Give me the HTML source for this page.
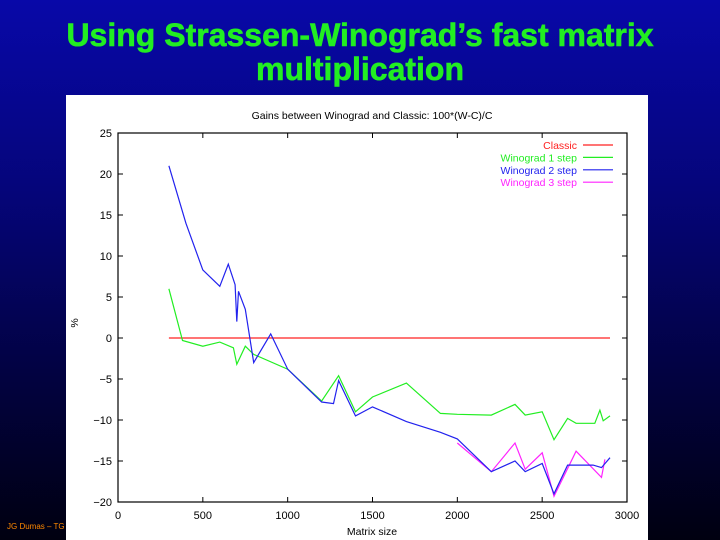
<!DOCTYPE html>
<html><head><style>
body{margin:0;width:720px;height:540px;overflow:hidden;background:linear-gradient(#0808a8 0%,#05057a 35%,#020240 70%,#000010 100%);font-family:"Liberation Sans",sans-serif;position:relative}
.t{position:absolute;left:0;width:720px;text-align:center;color:#22ee22;font-weight:bold;font-size:32px;line-height:34px;-webkit-text-stroke:0.6px #22ee22}
</style></head><body>
<div class="t" style="top:18px">Using Strassen-Winograd’s fast matrix<br>multiplication</div>
<div style="position:absolute;left:7px;top:522px;color:#ff8800;font-size:8px">JG Dumas – TG</div>
<svg style="position:absolute;left:66px;top:95px" width="582" height="445" id="s"></svg>
<script>
var s=document.getElementById('s'),h='<rect width="582" height="445" fill="#fff"/>';
function X(x){return 118-66+x*509/3000}function Y(v){return 338-95-v*8.2}
h+='<text x="306" y="24" font-size="10.5" text-anchor="middle" fill="#000">Gains between Winograd and Classic: 100*(W-C)/C</text>';
h+='<rect x="'+X(0)+'" y="'+Y(25)+'" width="509" height="369" fill="none" stroke="#000" stroke-width="1.2"/>';
for(var v=-20;v<=25;v+=5){var y=Y(v);h+='<line x1="'+X(0)+'" x2="'+(X(0)+5)+'" y1="'+y+'" y2="'+y+'" stroke="#000"/><line x1="'+X(3000)+'" x2="'+(X(3000)-5)+'" y1="'+y+'" y2="'+y+'" stroke="#000"/><text x="'+(X(0)-6)+'" y="'+(y+4)+'" font-size="11" text-anchor="end">'+(v<0?'\u2212'+(-v):v)+'</text>';}
for(var x=0;x<=3000;x+=500){var xx=X(x);h+='<line x1="'+xx+'" x2="'+xx+'" y1="'+Y(-20)+'" y2="'+(Y(-20)-5)+'" stroke="#000"/><line x1="'+xx+'" x2="'+xx+'" y1="'+Y(25)+'" y2="'+(Y(25)+5)+'" stroke="#000"/><text x="'+xx+'" y="'+(Y(-20)+17)+'" font-size="11" text-anchor="middle">'+x+'</text>';}
h+='<text x="306" y="440" font-size="10.5" text-anchor="middle">Matrix size</text><text x="12" y="228" font-size="10.5" transform="rotate(-90 12 228)" text-anchor="middle">%</text>';
function P(d,c){var p=[];for(var i=0;i<d.length;i+=2)p.push(X(d[i]).toFixed(1)+','+Y(d[i+1]).toFixed(1));h+='<polyline points="'+p.join(' ')+'" fill="none" stroke="'+c+'" stroke-width="1.2"/>';}
P([300,0,2900,0],'#ff2020');
P([300,6,380,-0.3,500,-1,600,-0.5,680,-1.2,700,-3.2,750,-1,800,-2,1000,-3.8,1200,-7.7,1300,-4.6,1400,-9,1500,-7.2,1700,-5.5,1900,-9.2,2000,-9.3,2200,-9.4,2340,-8.1,2400,-9.4,2500,-9,2570,-12.4,2650,-9.8,2700,-10.4,2810,-10.4,2840,-8.8,2860,-10.1,2900,-9.5],'#22ee22');
P([2000,-12.8,2200,-16.3,2340,-12.8,2400,-16,2500,-14,2570,-19.3,2700,-13.8,2850,-17,2870,-14.8],'#ff22ff');
P([300,21,400,14,500,8.3,600,6.3,650,9,690,6.5,700,2,710,5.7,750,3.5,800,-3,900,0.5,1000,-3.8,1100,-5.8,1200,-7.8,1270,-8,1300,-5.2,1400,-9.5,1500,-8.4,1700,-10.2,1900,-11.5,2000,-12.3,2200,-16.3,2340,-15,2400,-16.3,2500,-15.3,2570,-19,2650,-15.5,2800,-15.5,2850,-15.8,2900,-14.6],'#2222ee');
var L=[['Classic','#ff2020'],['Winograd 1 step','#22ee22'],['Winograd 2 step','#2222ee'],['Winograd 3 step','#ff22ff']];
L.forEach(function(l,i){var y=145-95+i*12.4;h+='<text x="511" y="'+(y+4)+'" font-size="10.5" text-anchor="end" fill="'+l[1]+'">'+l[0]+'</text><line x1="517" x2="547" y1="'+y+'" y2="'+y+'" stroke="'+l[1]+'" stroke-width="1.2"/>';});
s.innerHTML=h;
</script>
</body></html>
